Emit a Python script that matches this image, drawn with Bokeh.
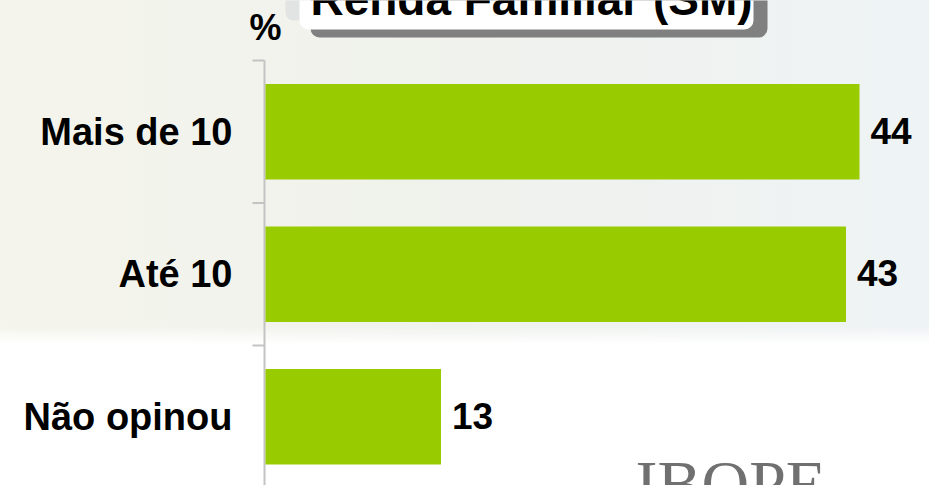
from bokeh.plotting import figure
from bokeh.models import Range1d, FixedTicker
from bokeh.core.properties import value
from bokeh.embed import file_html
from bokeh.resources import INLINE

# ---- data ----
categories = ["Mais de 10", "Até 10", "Não opinou"]
values = [44, 43, 13]
value_labels = [str(v) for v in values]
title_text = "Renda Familiar (SM)"
unit_label = "%"
logo_text = "IBOPE"

n = len(categories)
ypos = [n - i - 0.5 for i in range(n)]
boundaries = list(range(0, n + 1))

# ---- geometry (reference pixels -> data) ----
PX_PER_UNIT = 13.5
BAND = 142.5
ZERO_REF = 265        # x pixel of value 0
TOP_TICK_REF = 60     # y pixel of the top category boundary
FRAME_LEFT_REF = 248


def X(ref_px):
    return (ref_px - ZERO_REF) / PX_PER_UNIT


def Y(ref_py):
    return n + (TOP_TICK_REF - ref_py) / BAND


W, H = 929, 485
x_start = X(FRAME_LEFT_REF)
x_end = X(W)
y_start = Y(H)
y_end = Y(0)

p = figure(width=W, height=H,
           x_range=Range1d(x_start, x_end), y_range=Range1d(y_start, y_end),
           output_backend="svg", toolbar_location=None,
           x_axis_location=None, title=None,
           min_border_left=FRAME_LEFT_REF, min_border_right=0,
           min_border_top=0, min_border_bottom=0)

p.background_fill_color = None
p.border_fill_color = None
p.outline_line_color = None
for g in p.grid:
    g.grid_line_color = None

p.styles = {
    "background": "linear-gradient(to bottom, rgba(255,255,255,0) 0px, "
                  "rgba(255,255,255,0) 326px, rgba(255,255,255,1) 344px), "
                  "linear-gradient(to right, #f4f4ec 0%, #f0f2ec 45%, #eef3f5 100%)"
}

# ---- category axis (labels) ----
ax = p.yaxis[0]
ax.ticker = FixedTicker(ticks=ypos, minor_ticks=[])
ax.major_label_overrides = {y: c for y, c in zip(ypos, categories)}
ax.axis_line_color = None
ax.major_tick_line_color = None
ax.minor_tick_line_color = None
ax.major_tick_out = 0
ax.major_tick_in = 0
ax.minor_tick_out = 0
ax.minor_tick_in = 0
ax.major_label_standoff = FRAME_LEFT_REF - 232
ax.major_label_text_font = "Liberation Sans"
ax.major_label_text_font_style = "bold"
ax.major_label_text_font_size = "38px"
ax.major_label_text_color = "#000000"

# ---- axis line and boundary ticks ----
p.segment(x0=[X(264)], x1=[X(264)], y0=[n], y1=[y_start],
          line_color="#c3c3c3", line_width=2)
p.segment(x0=[X(252)] * len(boundaries), x1=[X(264)] * len(boundaries),
          y0=boundaries, y1=boundaries,
          line_color="#c3c3c3", line_width=2)

# ---- title box ----
p.quad(left=X(285), right=X(305), top=Y(-60), bottom=Y(20),
       fill_color="#e2e4e4", line_color=None, border_radius=8)
p.quad(left=X(310), right=X(767), top=Y(-60), bottom=Y(37),
       fill_color="#808080", line_color=None, border_radius=9)
p.quad(left=X(299), right=X(753), top=Y(-60), bottom=Y(29),
       fill_color="#ffffff", line_color=None, border_radius=9)
p.text(x=[X(531)], y=[Y(1)], text=[title_text], y_offset=-3,
       text_font=value("Liberation Sans"), text_font_style="bold",
       text_font_size="46px", text_color="#000000",
       text_align="center", text_baseline="middle")

# ---- bars ----
p.hbar(y=ypos, left=0, right=values, height=0.67,
       fill_color="#99cc00", line_color=None)

p.text(x=values, y=ypos, text=value_labels, x_offset=11, y_offset=-1,
       text_font=value("Liberation Sans"), text_font_style="bold",
       text_font_size="37px", text_color="#000000",
       text_align="left", text_baseline="middle")

# ---- % unit label ----
p.text(x=[X(249)], y=[Y(26.5)], text=[unit_label],
       text_font=value("Liberation Sans"), text_font_style="bold",
       text_font_size="36px", text_color="#000000",
       text_align="left", text_baseline="middle")

# ---- logo watermark ----
p.text(x=[X(635)], y=[Y(446)], text=[logo_text],
       text_font=value("Liberation Serif"), text_font_size="66px",
       text_color="#707070", text_align="left", text_baseline="top")

open("out.html", "w").write(file_html(p, INLINE))
